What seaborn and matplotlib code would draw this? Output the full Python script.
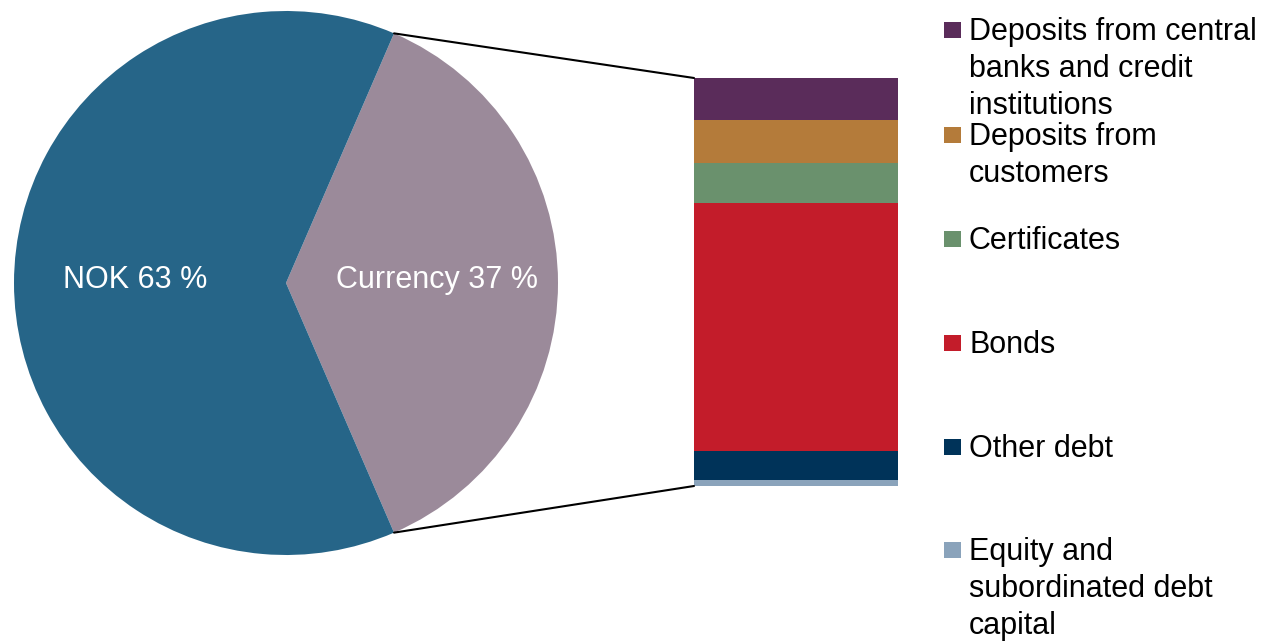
import numpy as np
import matplotlib.pyplot as plt
import seaborn as sns
from matplotlib.patches import ConnectionPatch, Rectangle

# NOK vs currency share of funding, and breakdown of the currency part
pie_labels = ['Currency 37 %', 'NOK 63 %']
pie_values = [37, 63]
pie_colors = ['#9b8a9a', '#266588']

parts = ['Deposits from central\nbanks and credit\ninstitutions',
         'Deposits from\ncustomers',
         'Certificates',
         'Bonds',
         'Other debt',
         'Equity and\nsubordinated debt\ncapital']
part_values = [10.3, 10.5, 9.8, 60.8, 7.1, 1.5]
part_colors = ['#5a2c5a', '#b47b3a', '#6a916d', '#c31c2a', '#003359', '#8aa3bb']

sns.set_theme(style='white')
plt.rcParams['font.family'] = ['Liberation Sans', 'DejaVu Sans']

W, H = 1277, 642
fig = plt.figure(figsize=(W / 100, H / 100), dpi=100)

# pie
ax1 = fig.add_axes([14 / W, 87 / H, 544 / W, 544 / H])
start = -pie_values[0] * 3.6 / 2
wedges, texts = ax1.pie(pie_values, labels=pie_labels, colors=pie_colors,
                        startangle=start, counterclock=True, labeldistance=0.555,
                        wedgeprops={'linewidth': 0},
                        textprops={'color': 'white', 'fontsize': 22})
for t in texts:
    t.set_ha('center')
    t.set_va('baseline')
    t.set_y(-0.02)
ax1.set_xlim(-1, 1)
ax1.set_ylim(-1, 1)

# stacked bar (drawn as cumulative layers, largest first)
ax2 = fig.add_axes([694 / W, 156 / H, 204 / W, 408 / H])
cum = []
total = 0
for v in reversed(part_values):
    total += v
    cum.append(total)
cum = cum[::-1]
for c, col in zip(cum, part_colors):
    sns.barplot(x=[0], y=[c], color=col, width=1, ax=ax2, saturation=1, linewidth=0)
ax2.set_xlim(-0.5, 0.5)
ax2.set_ylim(0, total)
ax2.axis('off')

# connector lines
a = np.deg2rad(-start)
for sgn, yb in [(1, total), (-1, 0)]:
    con = ConnectionPatch(xyA=(np.cos(a), sgn * np.sin(a)), coordsA=ax1.transData,
                          xyB=(-0.5, yb), coordsB=ax2.transData,
                          color='black', linewidth=1.5)
    fig.add_artist(con)

# legend, drawn by hand so the markers align with the first text line
baselines = [40, 145, 249, 353, 457, 560]
for lab, col, b in zip(parts, part_colors, baselines):
    fig.add_artist(Rectangle((944 / W, 1 - (b - 2) / H), 17 / W, 16 / H,
                             transform=fig.transFigure, color=col, lw=0))
    fig.text(969 / W, 1 - (b - 23) / H, lab, fontsize=22, color='black',
             ha='left', va='top', linespacing=1.3)

fig.savefig('out.png', dpi=100)
